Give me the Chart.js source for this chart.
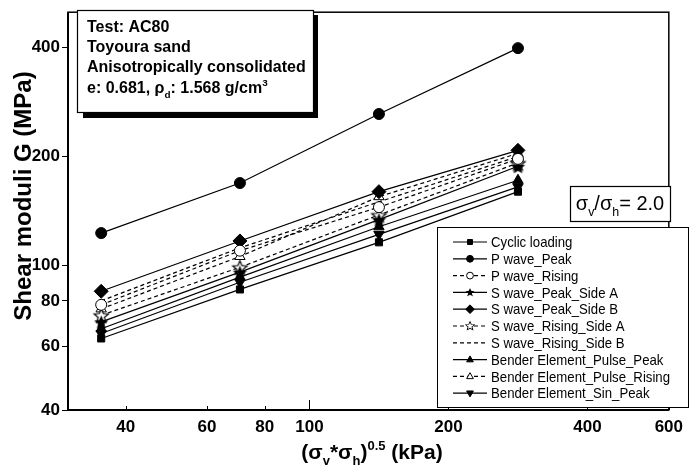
<!DOCTYPE html>
<html lang="en">
<head>
<meta charset="UTF-8">
<title>Shear moduli G</title>
<script src="https://cdn.jsdelivr.net/npm/chart.js"></script>
<style>
    html, body { margin: 0; padding: 0; background: #fff; }
    .chart-container { position: relative; width: 690px; height: 470px; }
</style>
</head>
<body>
<div class="chart-container"><canvas id="gChart" width="690" height="470"></canvas></div>
<script>
// (sv*sh)^0.5 for sv/sh = 2.0
const stressLevels = [35.4, 70.7, 141.4, 282.8];

const cyclicLoading = [63, 86, 116, 160];
const pWavePeak = [123, 169, 262, 398];
const pWaveRising = [78, 110, 145, 197];
const sWavePeakSideA = [70, 96, 134, 188];
const sWavePeakSideB = [85, 117, 160, 208];
const sWaveRisingSideA = [73, 99, 138, 192];
const sWaveRisingSideB = [80, 112, 150, 200];
const benderPulsePeak = [67, 93, 128, 172];
const benderPulseRising = [76, 106, 155, 204];
const benderSinPeak = [65, 90, 122, 165];

const xTickValues = [40, 60, 80, 100, 200, 400, 600];
const yTickValues = [40, 60, 80, 100, 200, 400];

const FONT = "'Liberation Sans', Arial, sans-serif";

function makeStar(filled, r) {
    const c = document.createElement('canvas');
    const s = Math.ceil(2 * r + 4);
    c.width = s; c.height = s;
    const g = c.getContext('2d');
    g.beginPath();
    for (let i = 0; i < 10; i++) {
        const rad = i % 2 === 0 ? r : r * 0.45;
        const a = -Math.PI / 2 + i * Math.PI / 5;
        const px = s / 2 + rad * Math.cos(a);
        const py = s / 2 + rad * Math.sin(a) + 1;
        if (i === 0) g.moveTo(px, py); else g.lineTo(px, py);
    }
    g.closePath();
    if (filled) { g.fillStyle = '#000'; g.fill(); }
    else { g.fillStyle = '#fff'; g.fill(); g.lineWidth = 1.2; g.strokeStyle = '#000'; g.stroke(); }
    return c;
}
const starFilled = makeStar(true, 7.5);
const starOpen = makeStar(false, 7.5);

function series(label, values, style) {
    return Object.assign({
        label: label,
        data: stressLevels.map((x, i) => ({ x: x, y: values[i] })),
        borderColor: '#000',
        borderWidth: 1.2,
        pointBorderColor: '#000',
        pointBackgroundColor: '#000',
        pointBorderWidth: 1,
        pointRadius: 5,
        borderDash: [],
        fill: false,
        tension: 0
    }, style);
}

const datasets = [
    series('Cyclic loading', cyclicLoading, { pointStyle: 'rect', pointRadius: 5 }),
    series('P wave_Peak', pWavePeak, { pointStyle: 'circle', pointRadius: 5.5 }),
    series('P wave_Rising', pWaveRising, { pointStyle: 'circle', pointRadius: 5.5, pointBackgroundColor: '#fff', borderDash: [4, 3] }),
    series('S wave_Peak_Side A', sWavePeakSideA, { pointStyle: starFilled }),
    series('S wave_Peak_Side B', sWavePeakSideB, { pointStyle: 'rectRot', pointRadius: 7 }),
    series('S wave_Rising_Side A', sWaveRisingSideA, { pointStyle: starOpen, borderDash: [4, 3] }),
    series('S wave_Rising_Side B', sWaveRisingSideB, { pointRadius: 0, borderDash: [4, 3] }),
    series('Bender Element_Pulse_Peak', benderPulsePeak, { pointStyle: 'triangle', pointRadius: 6 }),
    series('Bender Element_Pulse_Rising', benderPulseRising, { pointStyle: 'triangle', pointRadius: 6, pointBackgroundColor: '#fff', borderDash: [4, 3] }),
    series('Bender Element_Sin_Peak', benderSinPeak, { pointStyle: 'triangle', pointRadius: 6, rotation: 180 })
];

// text with sub/superscripts: parts = [[text, 'sub'|'sup'|null], ...]
function richWidth(ctx, parts, size, weight) {
    let w = 0;
    parts.forEach(p => {
        const s = p[1] ? size * 0.62 : size;
        ctx.font = weight + ' ' + s + 'px ' + FONT;
        w += ctx.measureText(p[0]).width;
    });
    return w;
}
function drawRich(ctx, parts, x, y, size, weight, align) {
    let cx = x;
    if (align === 'center') cx = x - richWidth(ctx, parts, size, weight) / 2;
    ctx.textAlign = 'left';
    ctx.textBaseline = 'alphabetic';
    ctx.fillStyle = '#000';
    parts.forEach(p => {
        const s = p[1] ? size * 0.62 : size;
        ctx.font = weight + ' ' + s + 'px ' + FONT;
        let dy = 0;
        if (p[1] === 'sub') dy = size * 0.3;
        if (p[1] === 'sup') dy = -size * 0.42;
        ctx.fillText(p[0], cx, y + dy);
        cx += ctx.measureText(p[0]).width;
    });
}

function drawMarker(ctx, ds, x, y) {
    const r = ds.pointRadius;
    if (r === 0) return;
    const st = ds.pointStyle;
    if (st instanceof HTMLCanvasElement) {
        const w = st.width * 0.62;
        ctx.drawImage(st, x - w / 2, y - w / 2 - 0.5, w, w);
        return;
    }
    ctx.save();
    ctx.fillStyle = ds.pointBackgroundColor;
    ctx.strokeStyle = '#000';
    ctx.lineWidth = 1;
    ctx.setLineDash([]);
    ctx.beginPath();
    const rr = r * 0.62;
    if (st === 'circle') {
        ctx.arc(x, y, rr, 0, Math.PI * 2);
    } else if (st === 'rect') {
        ctx.rect(x - rr * 0.8, y - rr * 0.8, rr * 1.6, rr * 1.6);
    } else if (st === 'rectRot') {
        ctx.moveTo(x, y - rr); ctx.lineTo(x + rr, y); ctx.lineTo(x, y + rr); ctx.lineTo(x - rr, y);
    } else if (st === 'triangle') {
        const d = ds.rotation === 180 ? -1 : 1;
        ctx.moveTo(x, y - d * rr); ctx.lineTo(x + rr * 0.9, y + d * rr * 0.6); ctx.lineTo(x - rr * 0.9, y + d * rr * 0.6);
    }
    ctx.closePath();
    ctx.fill();
    ctx.stroke();
    ctx.restore();
}

const decorPlugin = {
    id: 'decor',
    afterDraw(chart) {
        const ctx = chart.ctx;
        const a = chart.chartArea;
        const xs = chart.scales.x;
        ctx.save();

        // frame
        ctx.strokeStyle = '#000';
        ctx.lineWidth = 1.5;
        ctx.strokeRect(a.left, a.top, a.right - a.left, a.bottom - a.top);
        ctx.lineWidth = 2;
        ctx.beginPath();
        ctx.moveTo(a.left, a.top); ctx.lineTo(a.left, a.bottom); ctx.lineTo(a.right, a.bottom);
        ctx.stroke();

        // inward x ticks
        ctx.lineWidth = 1;
        xTickValues.forEach(v => {
            const px = Math.round(xs.getPixelForValue(v)) + 0.5;
            ctx.beginPath();
            ctx.moveTo(px, a.bottom);
            ctx.lineTo(px, a.bottom - (v === 100 ? 10 : 4));
            ctx.stroke();
        });

        // info box with shadow
        ctx.fillStyle = '#000';
        ctx.fillRect(83, 15, 235, 103);
        ctx.fillStyle = '#fff';
        ctx.fillRect(77, 10, 236, 102);
        ctx.lineWidth = 1.2;
        ctx.strokeRect(77.5, 10.5, 236, 102);
        const fs = 16;
        drawRich(ctx, [['Test: AC80', null]], 87, 32, fs, 'bold');
        drawRich(ctx, [['Toyoura sand', null]], 87, 52, fs, 'bold');
        drawRich(ctx, [['Anisotropically consolidated', null]], 87, 72, fs, 'bold');
        drawRich(ctx, [['e: 0.681, \u03c1', null], ['d', 'sub'], [': 1.568 g/cm', null], ['3', 'sup']], 87, 93, fs, 'bold');

        // stress ratio box
        ctx.fillStyle = '#fff';
        ctx.fillRect(570, 186, 100, 35);
        ctx.strokeStyle = '#000';
        ctx.lineWidth = 1.2;
        ctx.strokeRect(570.5, 186.5, 100, 35);
        drawRich(ctx, [['\u03c3', null], ['v', 'sub'], ['/\u03c3', null], ['h', 'sub'], ['= 2.0', null]], 620, 210, 20, 'normal', 'center');

        // legend
        const lx = 437, ly = 227, lw = 251, lh = 180;
        ctx.fillStyle = '#fff';
        ctx.fillRect(lx, ly, lw, lh);
        ctx.lineWidth = 1;
        ctx.strokeRect(lx + 0.5, ly + 0.5, lw, lh);
        chart.data.datasets.forEach((ds, i) => {
            const y = 242 + i * 16.8;
            ctx.strokeStyle = '#000';
            ctx.lineWidth = 1.2;
            ctx.setLineDash(ds.borderDash);
            ctx.beginPath();
            ctx.moveTo(453, y); ctx.lineTo(487, y);
            ctx.stroke();
            ctx.setLineDash([]);
            drawMarker(ctx, ds, 470, y);
            ctx.save();
            ctx.translate(491, y + 1);
            ctx.scale(0.88, 1);
            ctx.fillStyle = '#000';
            ctx.font = '15px ' + FONT;
            ctx.textAlign = 'left';
            ctx.textBaseline = 'middle';
            ctx.fillText(ds.label, 0, 0);
            ctx.restore();
        });

        // axis titles
        drawRich(ctx, [['(\u03c3', null], ['v', 'sub'], ['*\u03c3', null], ['h', 'sub'], [')', null], ['0.5', 'sup'], [' (kPa)', null]], 372, 459, 21, 'bold', 'center');
        ctx.save();
        ctx.translate(31, 196);
        ctx.rotate(-Math.PI / 2);
        ctx.font = 'bold 24px ' + FONT;
        ctx.textAlign = 'center';
        ctx.textBaseline = 'alphabetic';
        ctx.fillStyle = '#000';
        ctx.fillText('Shear moduli G (MPa)', 0, 0);
        ctx.restore();

        ctx.restore();
    }
};

const ctx = document.getElementById('gChart').getContext('2d');
new Chart(ctx, {
    type: 'line',
    data: { datasets: datasets },
    options: {
        responsive: false,
        animation: false,
        devicePixelRatio: 1,
        layout: { padding: { top: 8, right: 3, left: 0, bottom: 0 } },
        plugins: { legend: { display: false }, tooltip: { enabled: false } },
        scales: {
            x: {
                type: 'logarithmic',
                min: 30,
                max: 600,
                afterBuildTicks: function (scale) { scale.ticks = xTickValues.map(v => ({ value: v })); },
                afterFit: function (scale) { scale.height = 60; },
                grid: { drawOnChartArea: false, drawTicks: false },
                border: { display: false },
                ticks: {
                    color: '#000',
                    padding: 7,
                    maxRotation: 0,
                    autoSkip: false,
                    font: { family: FONT, size: 17, weight: 'bold' },
                    callback: function (v) { return String(v); }
                }
            },
            y: {
                type: 'logarithmic',
                min: 40,
                max: 500,
                afterBuildTicks: function (scale) { scale.ticks = yTickValues.map(v => ({ value: v })); },
                afterFit: function (scale) { scale.width = 68; },
                grid: { drawOnChartArea: false, drawTicks: true, tickLength: 6, color: '#000' },
                border: { display: false },
                ticks: {
                    color: '#000',
                    padding: 2,
                    autoSkip: false,
                    font: { family: FONT, size: 17, weight: 'bold' },
                    callback: function (v) { return String(v); }
                }
            }
        }
    },
    plugins: [decorPlugin]
});
</script>
</body>
</html>
